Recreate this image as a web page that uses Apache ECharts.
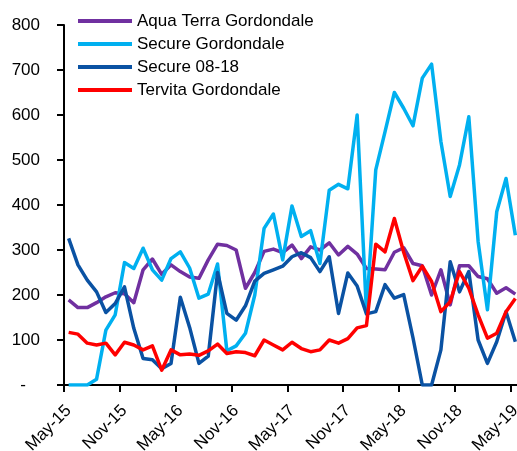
<!DOCTYPE html>
<html>
<head>
<meta charset="utf-8">
<script src="https://cdn.jsdelivr.net/npm/echarts@6/dist/echarts.min.js"></script>
<style>
  html, body { margin: 0; padding: 0; background: #fff; }
  #chart { width: 517px; height: 451px; }
</style>
</head>
<body>
<div id="chart"></div>
<script>
// monthly categories May-15 .. May-19
var months = ['Jan', 'Feb', 'Mar', 'Apr', 'May', 'Jun', 'Jul', 'Aug', 'Sep', 'Oct', 'Nov', 'Dec'];
var categories = [];
for (var k = 0; k < 49; k++) {
    var m = (4 + k) % 12;
    var yr = 15 + Math.floor((4 + k) / 12);
    categories.push(months[m] + '-' + yr);
}

var aquaTerra = [189, 172, 172, 183, 196, 205, 203, 183, 256, 280, 246, 267, 252, 240, 237, 278, 313, 310, 300, 215,
    250, 297, 302, 294, 311, 281, 307, 300, 316, 289, 308, 291, 259, 258, 256, 295, 305, 270, 265, 200,
    256, 178, 265, 265, 241, 236, 204, 216, 202];
var secureGordondale = [0, 0, 0, 13, 122, 156, 272, 259, 304, 256, 233, 281, 296, 260, 193, 202, 269, 76, 87, 115,
    200, 348, 380, 278, 398, 330, 343, 270, 433, 446, 436, 600, 162, 478, 563, 650, 615, 576, 682, 713,
    541, 419, 489, 596, 319, 167, 385, 459, 333];
var secure0818 = [326, 267, 233, 207, 161, 181, 218, 126, 59, 56, 36, 48, 195, 128, 48, 64, 250, 159, 144, 176,
    231, 248, 256, 264, 285, 294, 283, 252, 285, 159, 249, 220, 158, 163, 223, 193, 201, 105, 0, 0,
    78, 274, 207, 252, 100, 48, 96, 163, 96];
var tervita = [117, 113, 93, 89, 93, 67, 95, 89, 78, 87, 33, 78, 67, 69, 66, 76, 91, 70, 74, 72,
    65, 100, 89, 78, 95, 81, 74, 78, 100, 93, 103, 127, 132, 313, 296, 370, 295, 232, 264, 230,
    163, 185, 252, 215, 156, 104, 115, 163, 192];

var seriesNames = ['Aqua Terra Gordondale', 'Secure Gordondale', 'Secure 08-18', 'Tervita Gordondale'];
var seriesData = [aquaTerra, secureGordondale, secure0818, tervita];
var colors = ['#7030A0', '#00B0F0', '#0A52A3', '#FF0000'];

var fontFamily = '"Liberation Sans", Arial, sans-serif';

var myChart = echarts.init(document.getElementById('chart'), null, { renderer: 'canvas' });

var series = seriesNames.map(function (name, i) {
    return {
        name: name,
        type: 'line',
        data: seriesData[i],
        symbol: 'none',
        lineStyle: { width: 3.5, color: colors[i], join: 'round' },
        itemStyle: { color: colors[i] },
        animation: false
    };
});

var option = {
    animation: false,
    color: colors,
    textStyle: { fontFamily: fontFamily, color: '#000' },
    grid: { left: 64, top: 25, right: -3, bottom: 66, containLabel: false, outerBoundsMode: 'none' },
    legend: {
        orient: 'vertical',
        left: 78,
        top: 11,
        padding: 0,
        icon: 'rect',
        itemWidth: 54,
        itemHeight: 4,
        itemGap: 3,
        textStyle: { fontSize: 17, lineHeight: 20, color: '#000', fontFamily: fontFamily },
        data: seriesNames
    },
    xAxis: {
        type: 'category',
        data: categories,
        boundaryGap: true,
        axisLine: { lineStyle: { color: '#000', width: 2 } },
        axisTick: { show: true, interval: 5, length: 7, lineStyle: { color: '#000', width: 2 } },
        axisLabel: {
            interval: 5,
            rotate: 45,
            margin: 23,
            fontSize: 17,
            color: '#000',
            fontFamily: fontFamily
        },
        splitLine: { show: false }
    },
    yAxis: {
        type: 'value',
        min: 0,
        max: 800,
        interval: 100,
        axisLine: { show: true, lineStyle: { color: '#000', width: 2 } },
        axisTick: { show: true, length: 7, lineStyle: { color: '#000', width: 2 } },
        axisLabel: {
            margin: 24,
            fontSize: 17,
            color: '#000',
            fontFamily: fontFamily,
            formatter: function (v) { return v === 0 ? '-   ' : String(v); }
        },
        splitLine: { show: false }
    },
    series: series
};

myChart.setOption(option);
</script>
</body>
</html>
